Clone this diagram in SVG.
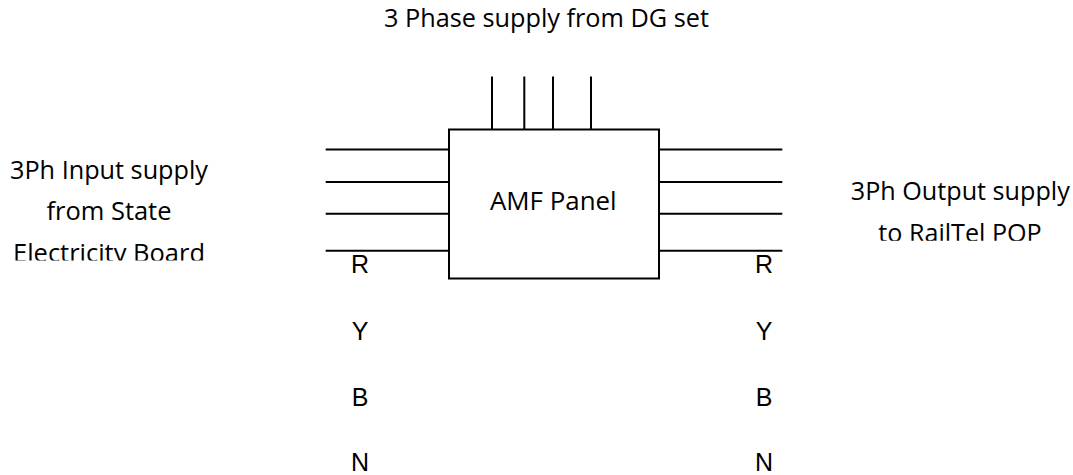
<svg xmlns="http://www.w3.org/2000/svg" width="1073" height="475" viewBox="0 0 1073 475">
  <style>
    .ln { stroke: #000; stroke-width: 2; fill: none; }
    .box { stroke: #000; stroke-width: 2; fill: #fff; }
    .lbl { font-family: "Open Sans", "Liberation Sans", sans-serif; font-size: 26px; fill: #000; text-anchor: middle; }
    .ph { font-family: "Liberation Sans", Arial, sans-serif; font-size: 25px; fill: #000; text-anchor: middle; }
  </style>
  <defs>
    <clipPath id="clipL"><rect x="0" y="140" width="260" height="120.6"/></clipPath>
    <clipPath id="clipR"><rect x="800" y="160" width="273" height="80.8"/></clipPath>
  </defs>
  <rect width="1073" height="475" fill="#fff"/>

  <g id="connectors">
    <line class="ln" x1="492" y1="76.5" x2="492" y2="129.5"/>
    <line class="ln" x1="524.3" y1="76.5" x2="524.3" y2="129.5"/>
    <line class="ln" x1="553" y1="76.5" x2="553" y2="129.5"/>
    <line class="ln" x1="591" y1="76.5" x2="591" y2="129.5"/>
    <line class="ln" x1="325.7" y1="149.5" x2="449" y2="149.5"/>
    <line class="ln" x1="325.7" y1="182" x2="449" y2="182"/>
    <line class="ln" x1="325.7" y1="213.8" x2="449" y2="213.8"/>
    <line class="ln" x1="325.7" y1="250.8" x2="449" y2="250.8"/>
    <line class="ln" x1="659" y1="149.5" x2="782.3" y2="149.5"/>
    <line class="ln" x1="659" y1="182" x2="782.3" y2="182"/>
    <line class="ln" x1="659" y1="213.8" x2="782.3" y2="213.8"/>
    <line class="ln" x1="659" y1="250.8" x2="782.3" y2="250.8"/>
  </g>

  <g id="amf-panel">
    <rect class="box" x="449" y="129.5" width="210" height="149"/>
    <text class="lbl" x="553.3" y="210" textLength="126.7" lengthAdjust="spacingAndGlyphs">AMF Panel</text>
  </g>

  <g id="dg-supply">
    <text class="lbl" x="546.5" y="27" textLength="325" lengthAdjust="spacingAndGlyphs">3 Phase supply from DG set</text>
  </g>

  <g id="seb-input" clip-path="url(#clipL)">
    <text class="lbl" x="109" y="179" textLength="198" lengthAdjust="spacingAndGlyphs">3Ph Input supply</text>
    <text class="lbl" x="109" y="220" textLength="125" lengthAdjust="spacingAndGlyphs">from State</text>
    <text class="lbl" x="109" y="261.5" textLength="192" lengthAdjust="spacingAndGlyphs">Electricity Board</text>
  </g>

  <g id="railtel-output" clip-path="url(#clipR)">
    <text class="lbl" x="960.3" y="200" textLength="219" lengthAdjust="spacingAndGlyphs">3Ph Output supply</text>
    <text class="lbl" x="960" y="241.5" textLength="163.3" lengthAdjust="spacingAndGlyphs">to RailTel POP</text>
  </g>

  <g id="phases-left">
    <text class="ph" x="360" y="273">R</text>
    <text class="ph" x="360" y="339.5">Y</text>
    <text class="ph" x="360" y="405.5">B</text>
    <text class="ph" x="360" y="471">N</text>
  </g>

  <g id="phases-right">
    <text class="ph" x="764" y="273">R</text>
    <text class="ph" x="764" y="339.5">Y</text>
    <text class="ph" x="764" y="405.5">B</text>
    <text class="ph" x="764" y="471">N</text>
  </g>
</svg>
